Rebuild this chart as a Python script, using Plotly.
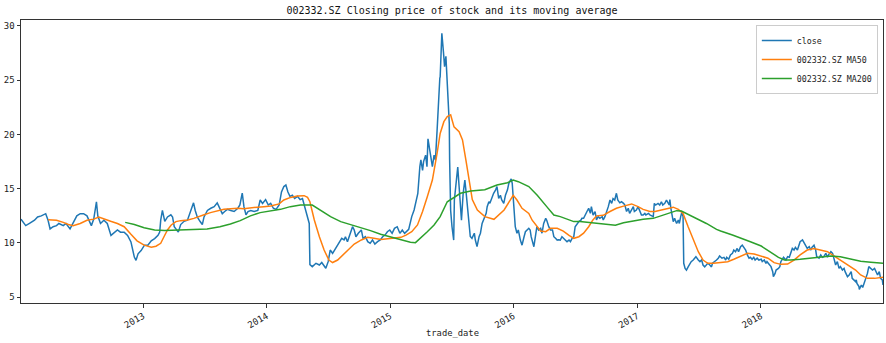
import plotly.graph_objects as go
import pandas as pd

# ---------------- data ----------------
dates_2012 = ["01-06","01-10","01-20","01-31","02-15","02-24","03-06","03-19","03-26","04-01",
              "04-10","04-20","04-27","05-10","05-18","05-30","06-08","06-19","06-29","07-09",
              "07-19","07-27","08-01","08-08","08-16","08-20","08-28","09-07","09-17","09-28",
              "10-08","10-17","10-26","11-06","11-16","11-26","12-06","12-11","12-17","12-26"]
close_2012 = [12.2,12.0,11.6,11.8,12.1,12.4,12.5,12.7,12.1,11.3,
              11.5,11.6,11.8,11.6,11.8,11.3,11.9,12.5,12.7,12.7,
              12.5,11.9,11.6,12.2,13.8,12.5,11.8,12.1,11.8,10.7,
              11.0,11.2,11.0,11.0,10.7,10.1,8.7,8.4,9.0,9.3]

dates_2013 = ["01-05","01-15","01-25","02-04","02-14","02-19","02-22","02-27","03-06","03-14",
              "03-24","03-29","04-03","04-15","04-22","05-02","05-12","05-20","05-30","06-04",
              "06-10","06-18","06-25","06-30","07-10","07-20","07-30","08-08","08-16","08-23",
              "08-30","09-07","09-17","09-27","10-08","10-14","10-21","10-26","11-01","11-07",
              "11-15","11-25","12-06","12-13","12-20","12-29"]
close_2013 = [9.8,9.8,10.2,10.4,10.7,11.0,12.1,13.0,12.0,12.4,
              12.6,12.4,11.5,11.0,11.7,12.0,12.1,12.9,13.7,13.0,
              12.4,12.0,11.7,12.4,13.0,13.2,13.35,13.7,13.2,12.7,
              12.9,13.1,13.0,12.9,13.2,13.5,14.6,13.35,12.6,12.9,
              13.0,12.9,13.0,13.96,13.65,14.0]

dates_2014 = ["01-06","01-13","01-21","01-29","02-07","02-14","02-21","02-27","03-05","03-11",
              "03-18","03-25","04-02","04-10","04-17","04-22","04-28","05-05","05-07","05-09",
              "05-16","05-27","06-06","06-13","06-20","06-25","07-02","07-08","07-15","07-21",
              "07-28","08-04","08-11","08-18","08-22","08-28","09-05","09-12","09-17","09-22",
              "09-29","10-08","10-13","10-20","10-27","11-03","11-10","11-17","11-25","12-03",
              "12-10","12-17","12-24","12-31"]
close_2014 = [13.5,13.65,13.2,13.1,13.5,14.7,15.2,15.35,14.7,14.3,
              14.4,14.1,14.3,14.0,14.1,13.5,13.0,12.1,11.8,8.0,
              7.82,8.13,7.97,8.2,7.88,7.67,8.28,9.35,9.05,9.35,
              9.66,9.97,10.43,10.28,10.58,10.12,10.89,11.5,11.2,10.58,
              10.89,11.2,10.43,10.58,10.12,9.97,10.28,9.9,10.12,10.28,
              10.58,10.73,11.04,11.2]

dates_2015 = ["01-07","01-14","01-22","01-30","02-06","02-13","02-25","03-02","03-06","03-13",
              "03-19","03-24","03-30","04-02","04-07","04-10","04-16","04-20","04-23","04-27",
              "04-30","05-06","05-11","05-15","05-20","05-25","05-28","05-29","06-03","06-08",
              "06-11","06-15","06-19","06-23","06-25","06-26","06-29","07-03","07-08","07-10",
              "07-16","07-20","07-24","07-28","07-31","08-05","08-10","08-13","08-17","08-21",
              "08-26","08-31","09-07","09-10","09-15","09-21","09-25","09-30","10-09","10-12",
              "10-15","10-20","10-23","10-29","11-03","11-09","11-13","11-18","11-23","11-27",
              "12-03","12-08","12-14","12-18","12-23","12-25","12-28","12-31"]
close_2015 = [10.89,11.35,11.5,10.89,11.2,10.89,11.26,12.12,12.43,13.04,
              13.8,14.58,17.04,17.65,16.7,17.5,18.1,17.04,19.6,18.9,
              18.3,17.04,18.1,17.65,20.4,24.4,25.2,25.3,29.32,27.5,
              26.25,27.2,24.4,21.95,21.0,17.65,13.0,11.5,10.27,13.96,
              15.8,17.0,15.2,13.04,12.1,14.58,15.8,14.9,13.35,11.8,
              10.6,10.43,10.9,10.27,9.66,10.58,10.9,11.8,12.43,12.73,
              13.35,13.8,13.66,14.27,14.58,14.9,15.2,14.1,14.4,13.96,
              13.66,14.4,14.9,15.5,15.8,15.9,15.5,14.27]

dates_2016 = ["01-04","01-06","01-11","01-15","01-21","01-26","02-01","02-05","02-15","02-19",
              "02-22","02-25","03-01","03-07","03-10","03-15","03-21","03-25","03-30","04-05",
              "04-08","04-14","04-19","04-25","04-29","05-04","05-09","05-13","05-18","05-23",
              "05-27","06-02","06-07","06-13","06-17","06-22","06-27","07-01","07-07","07-12",
              "07-18","07-21","07-26","08-01","08-05","08-10","08-15","08-18","08-23","08-29",
              "09-02","09-07","09-12","09-19","09-22","09-27","10-03","10-07","10-12","10-17",
              "10-21","10-26","10-31","11-04","11-10","11-15","11-21","11-25","11-30","12-05",
              "12-09","12-15","12-20","12-23","12-29"]
close_2016 = [13.04,11.5,10.9,11.2,10.27,9.8,10.58,11.04,11.35,11.2,
              10.58,10.27,9.66,10.9,11.5,11.2,11.35,10.9,11.8,12.27,
              12.1,11.5,11.2,11.2,10.58,10.43,10.27,10.3,10.27,10.58,
              10.43,10.27,10.12,10.27,10.12,10.43,10.58,11.5,11.8,11.97,
              12.1,12.27,12.27,12.58,12.9,13.2,12.73,13.35,12.58,12.9,
              12.12,12.43,12.27,12.43,12.12,12.43,12.9,13.35,13.96,13.65,
              14.1,13.96,14.58,13.96,13.7,13.8,13.65,13.5,12.9,13.2,
              12.73,13.04,13.35,12.9,13.04]

dates_2017 = ["01-03","01-09","01-13","01-18","01-23","01-26","02-03","02-07","02-13","02-17",
              "02-20","02-24","03-03","03-08","03-13","03-17","03-23","03-28","04-05","04-07",
              "04-10","04-13","04-17","04-21","04-27","05-02","05-05","05-09","05-12","05-16",
              "05-18","05-22","05-26","05-31","06-05","06-09","06-15","06-20","06-23","06-30",
              "07-05","07-10","07-14","07-19","07-24","07-28","08-03","08-08","08-11","08-18",
              "08-23","08-28","09-01","09-08","09-14","09-19","09-22","09-28","10-03","10-09",
              "10-13","10-18","10-23","10-27","11-02","11-07","11-10","11-17","11-22","11-27",
              "12-01","12-06","12-11","12-15","12-21","12-26"]
close_2017 = [13.35,12.9,12.58,12.58,12.73,12.58,12.73,12.58,12.5,12.43,
              13.65,13.5,13.65,13.5,13.8,13.5,13.65,13.96,13.5,14.0,
              13.2,12.43,11.97,12.27,11.8,12.12,11.8,12.43,12.8,12.43,
              8.13,7.66,7.5,7.8,8.13,8.28,8.43,8.7,8.74,8.43,
              8.28,8.43,7.97,7.8,7.97,8.13,7.97,7.8,8.13,8.28,
              8.43,8.6,8.8,8.6,8.68,8.43,8.68,8.5,8.9,9.05,
              9.35,9.2,9.5,9.2,9.66,9.8,9.66,9.35,8.9,8.6,
              8.68,8.5,8.68,8.43,8.6,8.43]

dates_2018 = ["01-02","01-05","01-11","01-16","01-19","01-26","01-31","02-05","02-07","02-12",
              "02-15","02-22","02-26","03-01","03-06","03-09","03-16","03-21","03-26","03-30",
              "04-04","04-09","04-13","04-19","04-24","04-27","05-04","05-09","05-14","05-18",
              "05-24","05-29","06-01","06-07","06-12","06-15","06-22","06-27","07-02","07-06",
              "07-12","07-17","07-20","07-27","08-01","08-06","08-10","08-15","08-20","08-24",
              "08-30","09-04","09-07","09-14","09-19","09-25","09-28","10-08","10-10","10-12",
              "10-18","10-19","10-25","10-29","11-02","11-07","11-12","11-16","11-22","11-27",
              "12-03","12-07","12-12","12-17","12-21","12-26","12-28"]
close_2018 = [8.5,8.28,8.43,8.13,8.28,7.97,7.82,7.36,6.9,7.2,
              7.51,7.66,7.82,8.28,8.6,8.68,8.43,8.74,8.68,9.05,
              9.5,9.35,9.6,9.35,9.8,10.12,10.28,9.97,9.8,9.5,
              9.66,9.35,9.6,9.8,9.35,8.74,8.6,8.9,8.68,8.74,
              9.05,8.68,8.9,9.2,9.05,8.43,7.97,8.28,7.66,7.82,
              7.51,7.66,7.36,6.9,7.05,7.36,6.74,6.44,6.6,6.28,
              5.98,5.73,6.13,5.9,6.28,6.9,7.2,7.82,7.66,7.51,
              7.66,7.36,7.05,7.36,6.74,6.6,6.13]

ma50_dates = ["2012-03-26","2012-04-20","2012-05-10","2012-05-25","2012-06-08","2012-06-29","2012-07-19",
              "2012-08-08","2012-08-23","2012-09-07","2012-09-27","2012-10-17","2012-11-06","2012-11-26",
              "2012-12-14","2013-01-04","2013-01-25","2013-02-08","2013-02-22","2013-03-04","2013-03-14",
              "2013-03-25","2013-04-08","2013-04-22","2013-05-13","2013-05-31","2013-06-14","2013-06-28",
              "2013-07-19","2013-08-08","2013-08-28","2013-09-17","2013-10-08","2013-10-25","2013-11-15",
              "2013-12-05","2013-12-24","2014-01-13","2014-02-07","2014-02-21","2014-03-13","2014-04-02",
              "2014-04-22","2014-05-02","2014-05-09","2014-05-22","2014-06-06","2014-06-20","2014-07-04",
              "2014-07-15","2014-07-30","2014-08-14","2014-08-28","2014-09-17","2014-10-08","2014-10-27",
              "2014-11-14","2014-12-05","2014-12-25","2015-01-12","2015-02-02","2015-02-17","2015-03-06",
              "2015-03-23","2015-04-07","2015-04-21","2015-05-06","2015-05-20","2015-05-29","2015-06-09",
              "2015-06-19","2015-06-29","2015-07-09","2015-07-24","2015-08-03","2015-08-13","2015-08-24",
              "2015-09-01","2015-09-16","2015-10-08","2015-11-04","2015-12-04","2015-12-31","2016-01-11",
              "2016-01-26","2016-02-15","2016-02-25","2016-03-10","2016-03-21","2016-04-05","2016-04-19",
              "2016-05-09","2016-05-27","2016-06-13","2016-06-27","2016-07-12","2016-07-26","2016-08-10",
              "2016-08-22","2016-09-02","2016-09-22","2016-10-12","2016-10-31","2016-11-21","2016-12-15",
              "2017-01-03","2017-01-18","2017-02-07","2017-02-22","2017-03-13","2017-04-05","2017-04-17",
              "2017-05-02","2017-05-16","2017-05-31","2017-06-15","2017-06-30","2017-07-14","2017-07-28",
              "2017-08-14","2017-09-01","2017-09-25","2017-10-13","2017-11-02","2017-11-22","2017-12-12",
              "2018-01-02","2018-01-22","2018-02-09","2018-03-01","2018-03-21","2018-04-09","2018-04-27",
              "2018-05-18","2018-06-07","2018-06-27","2018-07-17","2018-08-06","2018-08-24","2018-09-14",
              "2018-10-08","2018-10-23","2018-11-12","2018-12-03","2018-12-21","2018-12-28"]
ma50_vals = [12.15,12.1,11.9,11.7,11.6,11.8,12.1,
             12.2,12.4,12.2,12.0,11.8,11.5,10.8,
             10.2,9.8,9.6,9.7,9.97,10.6,11.2,
             11.66,11.97,12.06,12.12,12.27,12.4,12.58,
             12.8,12.95,13.1,13.16,13.2,13.16,13.2,
             13.3,13.35,13.4,13.6,13.96,14.2,14.33,
             14.36,14.2,13.8,12.12,10.58,9.35,8.43,
             8.2,8.43,8.9,9.35,9.9,10.28,10.52,
             10.43,10.33,10.4,10.46,10.52,10.73,11.04,
             11.66,12.9,14.27,15.8,18.27,20.1,21.18,
             21.64,21.8,20.7,20.25,19.5,17.65,15.5,
             14.0,13.04,12.43,12.18,13.04,14.4,13.96,
             13.2,12.73,12.1,11.5,11.1,11.04,11.35,
             11.35,11.1,10.7,10.43,10.58,10.9,11.5,
             12.1,12.5,12.55,12.9,13.2,13.4,13.6,
             13.35,13.1,12.9,12.9,13.04,13.2,13.3,
             13.1,12.73,11.5,10.28,9.2,8.43,8.13,
             8.13,8.2,8.28,8.5,8.8,9.05,8.98,
             8.8,8.6,8.19,8.03,8.06,8.43,8.9,
             9.35,9.5,9.35,9.2,8.8,8.43,7.97,
             7.51,7.05,6.74,6.74,6.84,6.84]

ma200_dates = ["2012-11-09","2012-12-06","2013-01-04","2013-02-04","2013-03-06","2013-04-11","2013-05-31",
               "2013-07-09","2013-08-16","2013-09-16","2013-10-15","2013-11-14","2013-12-13","2014-01-13",
               "2014-02-11","2014-03-12","2014-04-11","2014-05-16","2014-06-09","2014-07-09","2014-08-08",
               "2014-09-05","2014-10-08","2014-11-04","2014-12-04","2015-01-05","2015-02-02","2015-03-02",
               "2015-03-17","2015-04-01","2015-04-21","2015-05-11","2015-05-29","2015-06-19","2015-07-03",
               "2015-07-28","2015-08-27","2015-10-08","2015-11-13","2015-12-14","2015-12-31","2016-01-15",
               "2016-02-15","2016-03-11","2016-04-08","2016-04-29","2016-05-18","2016-06-07","2016-06-27",
               "2016-07-15","2016-08-15","2016-09-12","2016-10-12","2016-10-28","2016-11-21","2016-12-20",
               "2017-01-18","2017-02-17","2017-03-17","2017-04-07","2017-04-27","2017-05-11","2017-05-26",
               "2017-06-26","2017-07-24","2017-08-23","2017-09-04","2017-10-09","2017-11-02","2017-12-01",
               "2018-01-02","2018-01-30","2018-02-22","2018-03-12","2018-03-30","2018-04-27","2018-05-29",
               "2018-06-27","2018-07-27","2018-08-24","2018-09-25","2018-10-23","2018-11-22","2018-12-28"]
ma200_vals = [11.9,11.7,11.4,11.2,11.15,11.2,11.2,
              11.3,11.5,11.75,12.06,12.5,12.8,12.98,
              13.1,13.35,13.5,13.5,13.04,12.43,11.97,
              11.7,11.45,11.14,10.8,10.52,10.28,10.06,
              10.03,10.43,11.04,11.66,12.43,13.8,14.1,
              14.58,14.8,14.9,15.35,15.56,15.8,15.65,
              15.2,14.4,13.35,12.58,12.43,12.18,11.97,
              11.97,11.87,11.8,11.75,11.63,11.87,12.06,
              12.18,12.27,12.58,12.83,12.98,12.95,12.73,
              12.27,11.8,11.26,11.1,10.74,10.43,10.12,
              9.72,9.11,8.68,8.43,8.43,8.5,8.62,
              8.68,8.8,8.74,8.5,8.31,8.22,8.13]

year_ticks = ["2013", "2014", "2015", "2016", "2017", "2018"]
y_ticks = [5, 10, 15, 20, 25, 30]
title_text = "002332.SZ Closing price of stock and its moving average"
xlabel_text = "trade_date"
names = ["close", "002332.SZ MA50", "002332.SZ MA200"]
colors = ["#1f77b4", "#ff7f0e", "#2ca02c"]

# ---------------- assemble ----------------
years = [("2012", dates_2012, close_2012), ("2013", dates_2013, close_2013),
         ("2014", dates_2014, close_2014), ("2015", dates_2015, close_2015),
         ("2016", dates_2016, close_2016), ("2017", dates_2017, close_2017),
         ("2018", dates_2018, close_2018)]
close_x, close_y = [], []
for yr, ds, vs in years:
    assert len(ds) == len(vs), (yr, len(ds), len(vs))
    close_x += [f"{yr}-{d}" for d in ds]
    close_y += vs
assert len(ma50_dates) == len(ma50_vals), (len(ma50_dates), len(ma50_vals))
assert len(ma200_dates) == len(ma200_vals), (len(ma200_dates), len(ma200_vals))

close_x = pd.to_datetime(close_x)
ma50_x = pd.to_datetime(ma50_dates)
ma200_x = pd.to_datetime(ma200_dates)

FONT = "DejaVu Sans Mono"
TXT = "#222222"

fig = go.Figure()
for x, y, name, col in [(close_x, close_y, names[0], colors[0]),
                        (ma50_x, ma50_vals, names[1], colors[1]),
                        (ma200_x, ma200_vals, names[2], colors[2])]:
    fig.add_trace(go.Scatter(x=x, y=y, mode="lines", name=name,
                             line=dict(color=col, width=1.5)))

fig.update_layout(
    width=886, height=343,
    margin=dict(l=21, r=3, t=20, b=40),
    paper_bgcolor="white", plot_bgcolor="white",
    font=dict(family=FONT, size=9, color=TXT),
    title=dict(text=title_text, x=0.5, xref="paper", xanchor="center",
               y=1 - 10.5 / 343, yref="container", yanchor="middle",
               font=dict(family=FONT, size=10, color="#111111")),
    showlegend=True,
    legend=dict(x=0.994, y=0.982, xanchor="right", yanchor="top",
                bgcolor="rgba(255,255,255,0.8)", bordercolor="#cccccc", borderwidth=1,
                font=dict(family=FONT, size=8.3, color=TXT),
                tracegroupgap=0, itemwidth=30),
    xaxis=dict(type="date", range=[close_x.min(), close_x.max()],
               tickvals=pd.to_datetime([f"{t}-01-01" for t in year_ticks]),
               ticktext=year_ticks, tickangle=-30,
               ticks="outside", ticklen=3.5, tickcolor="#333333",
               showline=True, linecolor="#333333", linewidth=1, mirror=True,
               showgrid=False, zeroline=False,
               tickfont=dict(family=FONT, size=9, color=TXT)),
    yaxis=dict(range=[4.47, 30.55], tickvals=y_ticks,
               ticktext=[str(v) for v in y_ticks],
               ticks="outside", ticklen=3.5, tickcolor="#333333",
               showline=True, linecolor="#333333", linewidth=1, mirror=True,
               showgrid=False, zeroline=False,
               tickfont=dict(family=FONT, size=9, color=TXT)),
    annotations=[dict(text=xlabel_text, x=0.5, xref="paper", y=-30 / 283,
                      yref="paper", yanchor="middle", showarrow=False,
                      font=dict(family=FONT, size=8.8, color=TXT))],
)

fig.write_html("out.html")
